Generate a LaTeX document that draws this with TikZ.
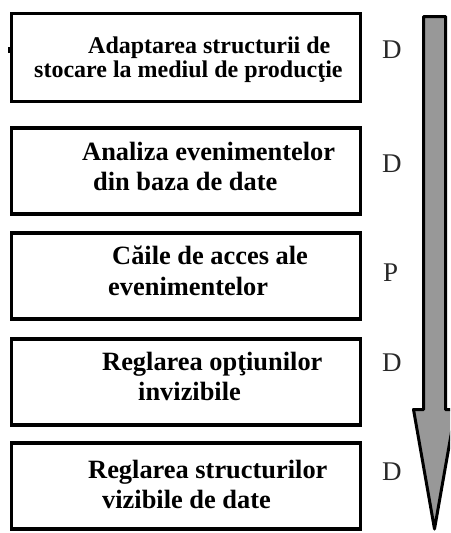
\documentclass[tikz,border=0pt]{standalone}
\usepackage{fontspec}
\setmainfont{Liberation Serif}
\definecolor{arrowgray}{RGB}{152,152,152}
\definecolor{lettergray}{RGB}{40,40,40}
\tikzset{
  stagebox/.style={draw=black, line width=3.2pt, fill=white, inner sep=0pt, outer sep=0pt},
  boxtext/.style={anchor=base west, inner sep=0pt, font=\fontsize{26.4}{30}\selectfont\bfseries},
  smalltext/.style={anchor=base west, inner sep=0pt, font=\fontsize{24}{24}\selectfont\bfseries},
  letter/.style={anchor=base west, inner sep=0pt, text=lettergray, font=\fontsize{27}{27}\selectfont},
  bigarrow/.style={draw=black, line width=3pt, fill=arrowgray, line join=round}
}
\begin{document}
\begin{tikzpicture}[x=1pt,y=-1pt]
\useasboundingbox (0,0) rectangle (450,533);
% boxes
\node[stagebox, minimum width=349pt, minimum height=88pt] (b1) at (186,57.5) {};
\node[stagebox, minimum width=349pt, minimum height=86pt] (b2) at (186,171) {};
\node[stagebox, minimum width=349pt, minimum height=86pt] (b3) at (186,276) {};
\node[stagebox, minimum width=349pt, minimum height=86pt] (b4) at (186,382) {};
\node[stagebox, minimum width=349pt, minimum height=86pt] (b5) at (186,486) {};
\fill (8,47) rectangle (11,53);
% texts
\node[smalltext] (t1a) at (88,53) {Adaptarea structurii de};
\node[smalltext] (t1b) at (34,77) {stocare la mediul de producţie};
\node[boxtext] (t2a) at (82,160) {Analiza evenimentelor};
\node[boxtext] (t2b) at (93,190) {din baza de date};
\node[boxtext] (t3a) at (112,264) {Căile de acces ale};
\node[boxtext] (t3b) at (108,295) {evenimentelor};
\node[boxtext] (t4a) at (102,370) {Reglarea opţiunilor};
\node[boxtext] (t4b) at (138,400) {invizibile};
\node[boxtext] (t5a) at (88,478) {Reglarea structurilor};
\node[boxtext] (t5b) at (102,508) {vizibile de date};
% letters
\node[letter] (l1) at (382,58) {D};
\node[letter] (l2) at (382,172) {D};
\node[letter] (l3) at (383,281) {P};
\node[letter] (l4) at (382,371) {D};
\node[letter] (l5) at (382,480) {D};
% arrow
\begin{scope}
\clip (0,0) rectangle (450,533);
\draw[bigarrow] (423.5,16.5) -- (445.5,16.5) -- (445.5,409.5) -- (455.5,409.5)
  -- (434.5,529) -- (413.5,409.5) -- (423.5,409.5) -- cycle;
\end{scope}
\end{tikzpicture}
\end{document}
